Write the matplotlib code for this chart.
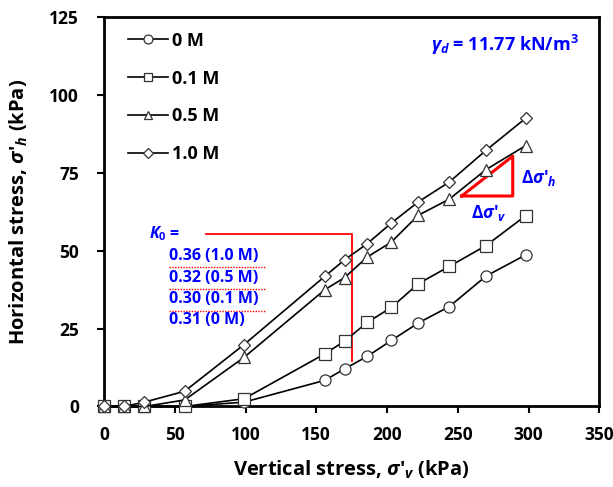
import matplotlib
matplotlib.use("Agg")
import matplotlib.pyplot as plt

plt.rcParams['font.family'] = ['Open Sans', 'DejaVu Sans']
plt.rcParams['font.weight'] = 'bold'
plt.rcParams['mathtext.fontset'] = 'custom'
plt.rcParams['mathtext.rm'] = 'Open Sans:bold'
plt.rcParams['mathtext.it'] = 'Open Sans:italic:bold'
plt.rcParams['mathtext.bf'] = 'Open Sans:bold'

# vertical stress (kPa), shared by all series
sv = [0, 14, 28.5, 57, 99, 156, 170, 186, 203, 222, 244, 270, 298]

# horizontal stress (kPa)
sh_0 = [0, 0, 0, 0, 1.4, 8.4, 12.1, 16.1, 21.2, 26.8, 32.1, 41.9, 48.7]
sh_01 = [0, 0, 0, 0, 2.5, 16.9, 21.0, 27.0, 31.8, 39.4, 45.0, 51.7, 61.3]
sh_05 = [0, 0, 0, 2.1, 15.8, 37.5, 41.4, 48.0, 52.8, 61.4, 66.6, 76.1, 83.8]
sh_10 = [0, 0, 1.4, 4.9, 19.9, 41.8, 47.1, 52.3, 58.9, 65.7, 72.1, 82.3, 92.6]

labels = ["0 M", "0.1 M", "0.5 M", "1.0 M"]
markers = ["o", "s", "^", "D"]
k0_text = ["0.36 (1.0 M)", "0.32 (0.5 M)", "0.30 (0.1 M)", "0.31 (0 M)"]

fig = plt.figure(figsize=(6.13, 4.87), dpi=100)
ax = fig.add_axes([0.1697, 0.1653, 0.808, 0.7992])

for y, lab, m in zip([sh_0, sh_01, sh_05, sh_10], labels, markers):
    ms = 6 if m == "D" else 8
    ax.plot(sv, y, color="black", lw=1.2, marker=m, ms=ms, mfc="white",
            mec="#333333", mew=0.9, label=lab, clip_on=False, zorder=3)

# K0 guide lines
ax.plot([72, 175, 175], [55.5, 55.5, 14.5], color="red", lw=1.3)
for yy in [44.9, 37.7, 30.8]:
    ax.plot([46, 114.5], [yy, yy], color="red", lw=1.0, ls=(0, (1, 1)))

ax.text(32, 55.5, "$K_0$ =", color="blue", fontsize=11.5, va="center",
        ha="left", fontweight="bold")
for i, t in enumerate(k0_text):
    ax.text(46, [48.3, 41.4, 34.4, 27.8][i], t, color="blue", fontsize=11.5,
            va="center", ha="left", fontweight="bold")

# slope triangle
ax.plot([252.7, 288.8, 288.8, 252.7], [67.6, 67.6, 80.4, 67.6],
        color="red", lw=2.2)
ax.text(295, 73.5, r"$\Delta\sigma$'$_h$", color="blue", fontsize=12.5,
        va="center", ha="left")
ax.text(272, 62.3, r"$\Delta\sigma$'$_v$", color="blue", fontsize=12.5,
        va="center", ha="center")
ax.text(231, 116, r"$\gamma_d$ = 11.77 kN/m$^3$", color="blue",
        fontsize=13, va="center", ha="left")

ax.set_xlim(0, 350)
ax.set_ylim(0, 125)
ax.set_xticks(range(0, 351, 50))
ax.set_yticks(range(0, 126, 25))
ax.tick_params(direction="out", length=5, width=1.5, labelsize=12.5)
ax.tick_params(axis="x", pad=9)
ax.tick_params(axis="y", pad=13)
for lab in ax.get_xticklabels() + ax.get_yticklabels():
    lab.set_fontweight("bold")
for s in ax.spines.values():
    s.set_linewidth(2)

ax.set_xlabel(r"Vertical stress, $\sigma$'$_v$ (kPa)", fontsize=14.5,
              fontweight="bold")
ax.set_ylabel(r"Horizontal stress, $\sigma$'$_h$ (kPa)", fontsize=14.5,
              fontweight="bold")
ax.xaxis.set_label_coords(0.5, -0.135)
ax.yaxis.set_label_coords(-0.15, 0.5)

ax.legend(loc="upper left", frameon=False, fontsize=13, handlelength=2.2,
          handletextpad=0.2, labelspacing=1.1, borderaxespad=0.4,
          markerscale=0.8, bbox_to_anchor=(0.02, 1.0))

fig.savefig("out.png", dpi=100)
